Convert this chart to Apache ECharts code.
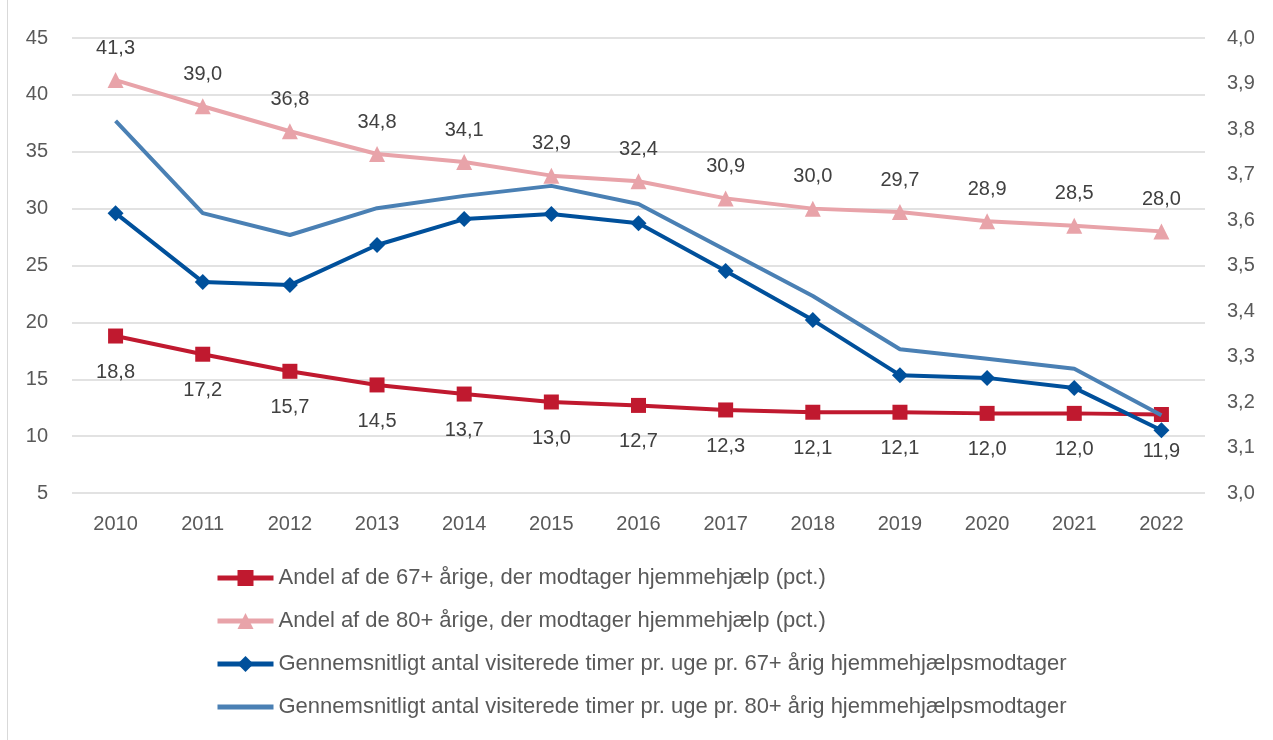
<!DOCTYPE html>
<html>
<head>
<meta charset="utf-8">
<script src="https://cdn.jsdelivr.net/npm/echarts@6/dist/echarts.min.js"></script>
<style>
  html, body { margin: 0; padding: 0; background: #fff; }
  #chart { width: 1273px; height: 740px; }
</style>
</head>
<body>
<div id="chart"></div>
<script>
const years = ['2010','2011','2012','2013','2014','2015','2016','2017','2018','2019','2020','2021','2022']
// andel (pct.) - venstre akse
const andel67 = [18.8, 17.2, 15.7, 14.5, 13.7, 13.0, 12.7, 12.3, 12.1, 12.1, 12.0, 12.0, 11.9]
const andel80 = [41.3, 39.0, 36.8, 34.8, 34.1, 32.9, 32.4, 30.9, 30.0, 29.7, 28.9, 28.5, 28.0]
// timer pr. uge - hoejre akse
const timer67 = [3.615, 3.464, 3.457, 3.545, 3.602, 3.613, 3.593, 3.488, 3.380, 3.259, 3.253, 3.231, 3.138]
const timer80 = [3.818, 3.615, 3.567, 3.626, 3.653, 3.675, 3.635, 3.534, 3.433, 3.316, 3.295, 3.273, 3.171]

const names = [
  'Andel af de 67+ årige, der modtager hjemmehjælp (pct.)',
  'Andel af de 80+ årige, der modtager hjemmehjælp (pct.)',
  'Gennemsnitligt antal visiterede timer pr. uge pr. 67+ årig hjemmehjælpsmodtager',
  'Gennemsnitligt antal visiterede timer pr. uge pr. 80+ årig hjemmehjælpsmodtager'
]

const font = 'Liberation Sans'
const fmt = (p) => p.value.toFixed(1).replace('.', ',')

const chart = echarts.init(document.getElementById('chart'))
chart.setOption({
  animation: false,
  textStyle: { fontFamily: font },
  grid: { left: 72, right: 68, top: 38, height: 455 },
  graphic: [{
    type: 'line',
    shape: { x1: 7.5, y1: 0, x2: 7.5, y2: 740 },
    style: { stroke: '#d9d9d9', lineWidth: 1 }
  }],
  legend: {
    orient: 'vertical',
    left: 210,
    top: 562,
    itemWidth: 56,
    itemHeight: 20,
    itemGap: 21,
    lineStyle: { width: 5 },
    textStyle: { fontSize: 22, lineHeight: 20, color: '#595959', fontFamily: font },
    data: [
      names[0], names[1], names[2],
      { name: names[3], itemStyle: { opacity: 0 } }
    ]
  },
  xAxis: {
    type: 'category',
    data: years,
    axisLine: { show: false },
    axisTick: { show: false },
    axisLabel: { fontSize: 20, color: '#595959', margin: 21 }
  },
  yAxis: [{
    type: 'value',
    min: 5, max: 45, interval: 5,
    axisLabel: { fontSize: 20, color: '#595959', margin: 24 },
    splitLine: { lineStyle: { color: '#d9d9d9', width: 1.5 } }
  }, {
    type: 'value',
    min: 3.0, max: 4.0, interval: 0.1,
    axisLabel: { fontSize: 20, color: '#595959', margin: 22, formatter: (v) => v.toFixed(1).replace('.', ',') },
    splitLine: { show: false }
  }],
  series: [{
    name: names[0],
    type: 'line',
    data: andel67,
    yAxisIndex: 0,
    symbol: 'rect',
    symbolSize: 15,
    itemStyle: { color: '#c0192f' },
    lineStyle: { width: 4, color: '#c0192f' },
    label: { show: true, position: 'bottom', distance: 19, fontSize: 20, color: '#404040', formatter: fmt },
    z: 3
  }, {
    name: names[1],
    type: 'line',
    data: andel80,
    yAxisIndex: 0,
    symbol: 'triangle',
    symbolSize: 16,
    itemStyle: { color: '#e8a3a9' },
    lineStyle: { width: 4, color: '#e8a3a9' },
    label: { show: true, position: 'top', distance: 14, fontSize: 20, color: '#404040', formatter: fmt },
    z: 2
  }, {
    name: names[2],
    type: 'line',
    data: timer67,
    yAxisIndex: 1,
    symbol: 'diamond',
    symbolSize: 16,
    itemStyle: { color: '#00509b' },
    lineStyle: { width: 4, color: '#00509b' },
    z: 5
  }, {
    name: names[3],
    type: 'line',
    data: timer80,
    yAxisIndex: 1,
    symbol: 'none',
    itemStyle: { color: '#4a80b4' },
    lineStyle: { width: 4, color: '#4a80b4' },
    z: 4
  }]
})
</script>
</body>
</html>
